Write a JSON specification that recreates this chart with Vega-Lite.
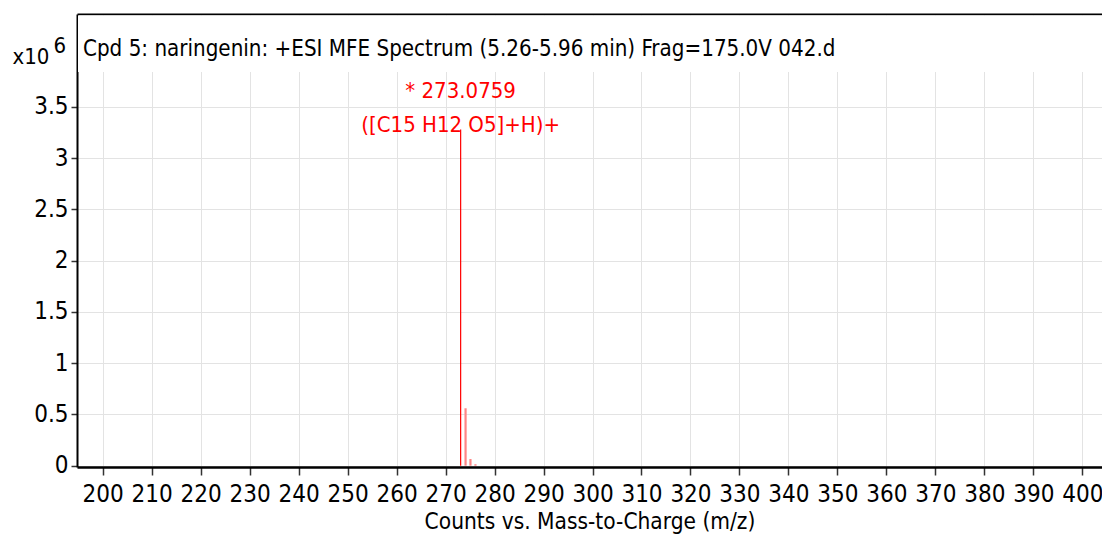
{
  "$schema": "https://vega.github.io/schema/vega-lite/v6.json",
  "width": 1025,
  "height": 453,
  "autosize": {"type": "none"},
  "padding": {"left": 77, "top": 14, "right": 0, "bottom": 73},
  "background": "white",
  "title": {
    "text": "Cpd 5: naringenin: +ESI MFE Spectrum (5.26-5.96 min) Frag=175.0V 042.d",
    "anchor": "start",
    "frame": "group",
    "orient": "top",
    "baseline": "alphabetic",
    "offset": -64,
    "dx": 6,
    "font": "DejaVu Sans Condensed",
    "fontSize": 22.2,
    "fontWeight": "normal",
    "color": "#000000"
  },
  "config": {
    "view": {"stroke": null},
    "font": "DejaVu Sans Condensed",
    "axis": {
      "labelFont": "DejaVu Sans Condensed",
      "titleFont": "DejaVu Sans Condensed",
      "labelColor": "#000000",
      "titleColor": "#000000",
      "titleFontWeight": "normal",
      "gridColor": "#e3e3e3",
      "gridWidth": 1,
      "tickColor": "#333333",
      "domainColor": "#000000"
    }
  },
  "data": {
    "values": [
      {"mz": 273.0759, "intensity": 3.28, "kind": "labeled", "label": "* 273.0759\n([C15 H12 O5]+H)+"},
      {"mz": 274.08, "intensity": 0.56, "kind": "isotope", "label": ""},
      {"mz": 275.08, "intensity": 0.065, "kind": "isotope", "label": ""},
      {"mz": 276.1, "intensity": 0.014, "kind": "isotope", "label": ""}
    ]
  },
  "resolve": {"axis": {"x": "independent", "y": "independent"}},
  "layer": [
    {
      "mark": {"type": "rect", "fill": "white", "stroke": null},
      "encoding": {
        "x": {
          "datum": 195.0, "type": "quantitative",
          "scale": {"domain": [194.75, 404.02], "nice": false, "zero": false},
          "axis": {"orient": "top", "labels": false, "ticks": false, "grid": false, "title": null, "domain": true, "domainWidth": 2, "domainColor": "#000000"}
        },
        "x2": {"datum": 404.02},
        "y": {
          "datum": 3.84, "type": "quantitative",
          "scale": {"domain": [-0.013, 4.407], "nice": false, "zero": false},
          "axis": {
            "orient": "left", "title": "6", "labels": false, "ticks": false, "domain": false, "grid": false,
            "titleAngle": 0, "titleX": -24, "titleY": 38, "titleAlign": "left", "titleBaseline": "alphabetic",
            "titleFontSize": 22
          }
        },
        "y2": {"datum": 4.39}
      }
    },
    {
      "mark": {"type": "rule"},
      "encoding": {
        "x": {
          "field": "mz", "type": "quantitative",
          "scale": {"domain": [194.75, 404.02], "nice": false, "zero": false},
          "axis": {
            "orient": "bottom",
            "values": [200,210,220,230,240,250,260,270,280,290,300,310,320,330,340,350,360,370,380,390,400],
            "format": "d", "labelFontSize": 24, "labelPadding": 7, "tickSize": 8, "tickWidth": 1.5,
            "domainWidth": 2.5, "grid": true,
            "title": "Counts vs. Mass-to-Charge (m/z)", "titleFontSize": 22.5, "titlePadding": 4
          }
        },
        "y": {
          "field": "intensity", "type": "quantitative",
          "scale": {"domain": [-0.013, 4.407], "nice": false, "zero": false},
          "axis": {
            "orient": "left",
            "values": [0, 0.5, 1, 1.5, 2, 2.5, 3, 3.5],
            "format": "~g", "labelFontSize": 24, "labelPadding": 3, "tickSize": 6, "tickWidth": 1.5,
            "domainWidth": 2, "grid": true,
            "title": "x10", "titleAngle": 0, "titleX": -65, "titleY": 49, "titleAlign": "left",
            "titleBaseline": "alphabetic", "titleFontSize": 22
          }
        },
        "y2": {"datum": 0},
        "color": {"field": "kind", "type": "nominal", "scale": {"domain": ["labeled", "isotope"], "range": ["#ff0000", "#ff8585"]}, "legend": null},
        "size": {"field": "kind", "type": "nominal", "scale": {"domain": ["labeled", "isotope"], "range": [1.2, 2.2]}, "legend": null}
      }
    },
    {
      "transform": [{"filter": "datum.label != ''"}],
      "mark": {"type": "text", "color": "#ff0000", "fontSize": 22, "align": "center", "baseline": "bottom", "lineBreak": "\n", "lineHeight": 34, "dy": -27},
      "encoding": {
        "x": {"field": "mz", "type": "quantitative", "scale": {"domain": [194.75, 404.02], "nice": false, "zero": false}, "axis": null},
        "y": {"field": "intensity", "type": "quantitative", "scale": {"domain": [-0.013, 4.407], "nice": false, "zero": false}, "axis": null},
        "text": {"field": "label"}
      }
    }
  ]
}
